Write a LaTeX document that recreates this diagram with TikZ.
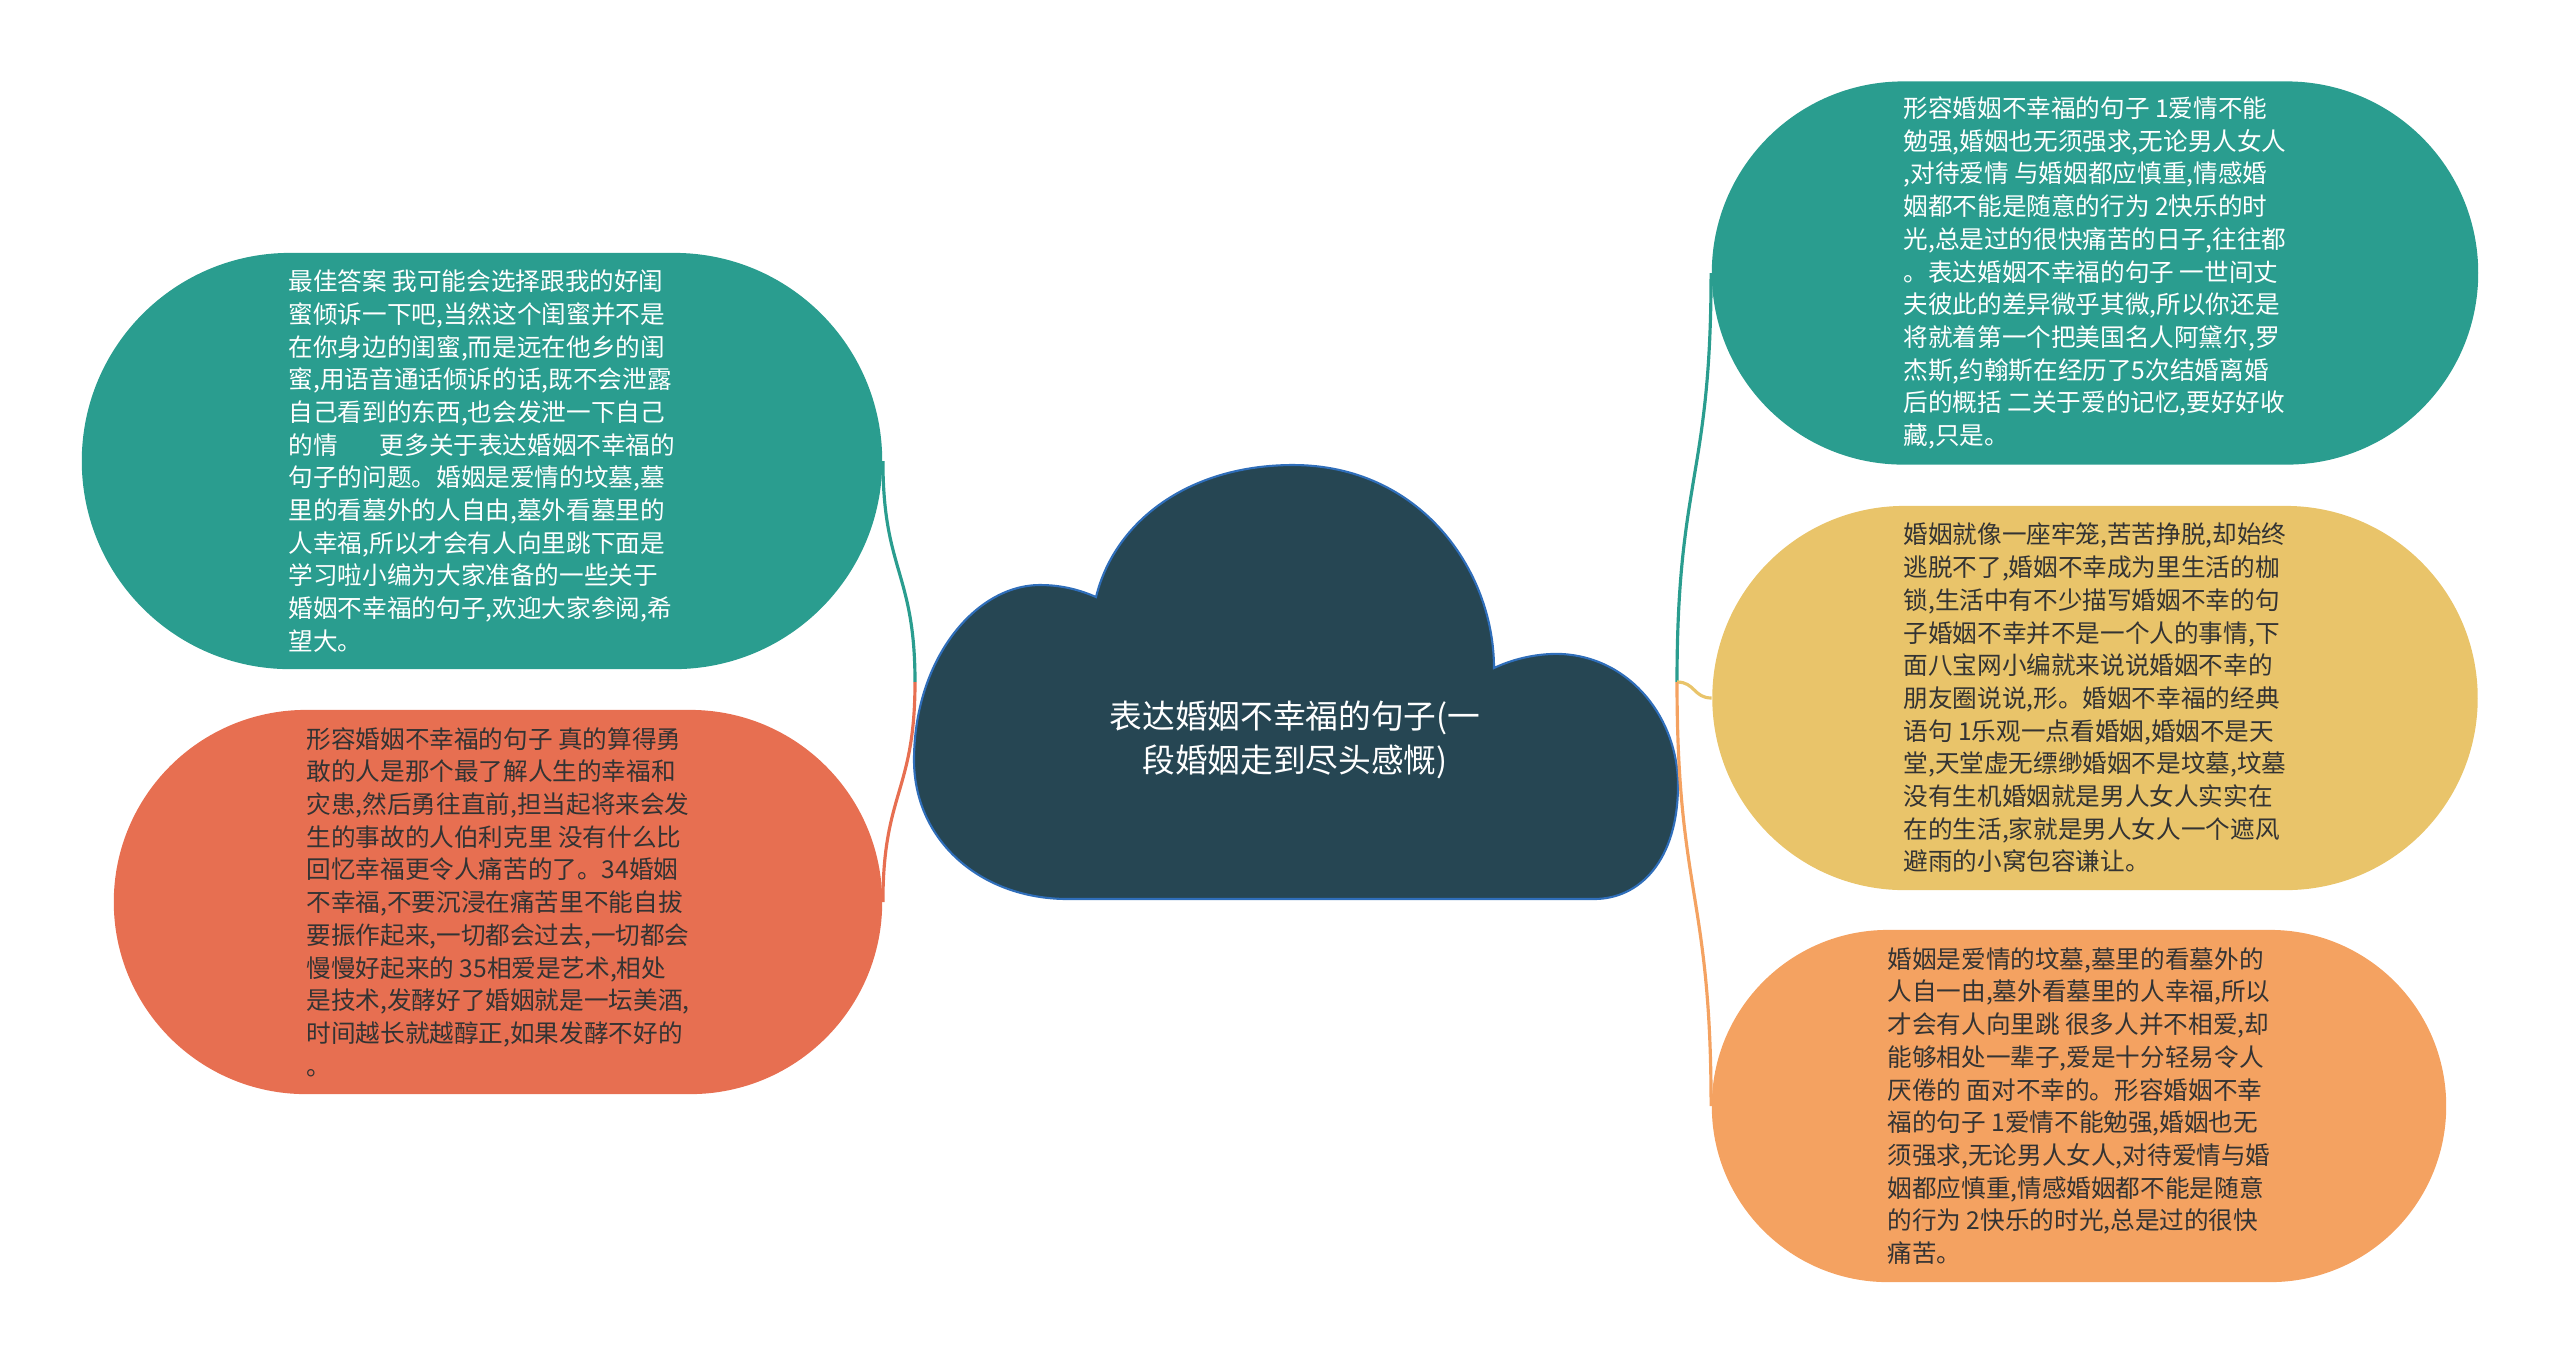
\documentclass[tikz,border=0pt]{standalone}
\usepackage{fontspec}
\setmainfont{Noto Sans CJK SC}
\definecolor{cloudfill}{HTML}{264653}
\definecolor{cloudline}{HTML}{2F6EBA}
\definecolor{tealnode}{HTML}{2A9D8F}
\definecolor{rednode}{HTML}{E76F51}
\definecolor{sandnode}{HTML}{E9C46A}
\definecolor{orangenode}{HTML}{F4A261}
\definecolor{darktext}{HTML}{333333}

\begin{document}
\begin{tikzpicture}[
  x=0.01cm, y=-0.01cm,
  leaf/.style={inner sep=0pt, align=left, font=\fontsize{7}{9.3}\selectfont},
  link/.style={line width=0.9pt}
]
  \useasboundingbox (0,0) rectangle (2560,1365);

  % central cloud
  \draw[fill=cloudfill, draw=cloudline, line width=0.6pt]
    (1068,899) .. controls (980,899) and (914,840) .. (914,760)
    .. controls (914,660) and (975,585) .. (1040,585)
    .. controls (1062,585) and (1080,590) .. (1096,597)
    .. controls (1115,520) and (1190,465) .. (1293,465)
    .. controls (1420,465) and (1494,570) .. (1494,668)
    .. controls (1515,658) and (1540,653) .. (1562,654)
    .. controls (1632,658) and (1678,720) .. (1678,785)
    .. controls (1678,860) and (1640,899) .. (1594,899) -- cycle;
  \node[text=white, align=center, font=\fontsize{9.3}{12.5}\selectfont] (root) at (1295,740)
    {表达婚姻不幸福的句子(一\\段婚姻走到尽头感慨)};
  \coordinate (jl) at (915,682);
  \coordinate (jr) at (1677,682);

  \node[leaf, fill=tealnode, text=white, minimum width=8cm, minimum height=4.16cm,
        rounded corners=2.08cm] (friend) at (482,461) {最佳答案 我可能会选择跟我的好闺\\
蜜倾诉一下吧,当然这个闺蜜并不是\\
在你身边的闺蜜,而是远在他乡的闺\\
蜜,用语音通话倾诉的话,既不会泄露\\
自己看到的东西,也会发泄一下自己\\
的情\hspace{1.7em}更多关于表达婚姻不幸福的\\
句子的问题。婚姻是爱情的坟墓,墓\\
里的看墓外的人自由,墓外看墓里的\\
人幸福,所以才会有人向里跳下面是\\
学习啦小编为大家准备的一些关于\\
婚姻不幸福的句子,欢迎大家参阅,希\\
望大。};

  \node[leaf, fill=rednode, text=darktext, minimum width=7.68cm, minimum height=3.84cm,
        rounded corners=1.92cm] (courage) at (498,902) {形容婚姻不幸福的句子 真的算得勇\\
敢的人是那个最了解人生的幸福和\\
灾患,然后勇往直前,担当起将来会发\\
生的事故的人伯利克里 没有什么比\\
回忆幸福更令人痛苦的了。34婚姻\\
不幸福,不要沉浸在痛苦里不能自拔\\
要振作起来,一切都会过去,一切都会\\
慢慢好起来的 35相爱是艺术,相处\\
是技术,发酵好了婚姻就是一坛美酒,\\
时间越长就越醇正,如果发酵不好的\\
。};

  \node[leaf, fill=tealnode, text=white, minimum width=7.66cm, minimum height=3.83cm,
        rounded corners=1.915cm] (reluct) at (2095,273) {形容婚姻不幸福的句子 1爱情不能\\
勉强,婚姻也无须强求,无论男人女人\\
,对待爱情 与婚姻都应慎重,情感婚\\
姻都不能是随意的行为 2快乐的时\\
光,总是过的很快痛苦的日子,往往都\\
。表达婚姻不幸福的句子 一世间丈\\
夫彼此的差异微乎其微,所以你还是\\
将就着第一个把美国名人阿黛尔,罗\\
杰斯,约翰斯在经历了5次结婚离婚\\
后的概括 二关于爱的记忆,要好好收\\
藏,只是。};

  \node[leaf, fill=sandnode, text=darktext, minimum width=7.65cm, minimum height=3.84cm,
        rounded corners=1.92cm] (cage) at (2095,698) {婚姻就像一座牢笼,苦苦挣脱,却始终\\
逃脱不了,婚姻不幸成为里生活的枷\\
锁,生活中有不少描写婚姻不幸的句\\
子婚姻不幸并不是一个人的事情,下\\
面八宝网小编就来说说婚姻不幸的\\
朋友圈说说,形。婚姻不幸福的经典\\
语句 1乐观一点看婚姻,婚姻不是天\\
堂,天堂虚无缥缈婚姻不是坟墓,坟墓\\
没有生机婚姻就是男人女人实实在\\
在的生活,家就是男人女人一个遮风\\
避雨的小窝包容谦让。};

  \node[leaf, fill=orangenode, text=darktext, minimum width=7.34cm, minimum height=3.52cm,
        rounded corners=1.76cm] (tomb) at (2079,1106) {婚姻是爱情的坟墓,墓里的看墓外的\\
人自一由,墓外看墓里的人幸福,所以\\
才会有人向里跳 很多人并不相爱,却\\
能够相处一辈子,爱是十分轻易令人\\
厌倦的 面对不幸的。形容婚姻不幸\\
福的句子 1爱情不能勉强,婚姻也无\\
须强求,无论男人女人,对待爱情与婚\\
姻都应慎重,情感婚姻都不能是随意\\
的行为 2快乐的时光,总是过的很快\\
痛苦。};

  % connectors
  \draw[link, tealnode] (jl) .. controls +(0,-110) and +(0,110) .. (friend.east);
  \draw[link, rednode] (jl) .. controls +(0,110) and +(0,-110) .. (courage.east);
  \draw[link, tealnode] (jr) .. controls +(0,-205) and +(0,205) .. (reluct.west);
  \draw[link, sandnode] (jr) .. controls +(18,0) and +(-18,0) .. (cage.west);
  \draw[link, orangenode] (jr) .. controls +(0,212) and +(0,-212) .. (tomb.west);
\end{tikzpicture}
\end{document}
